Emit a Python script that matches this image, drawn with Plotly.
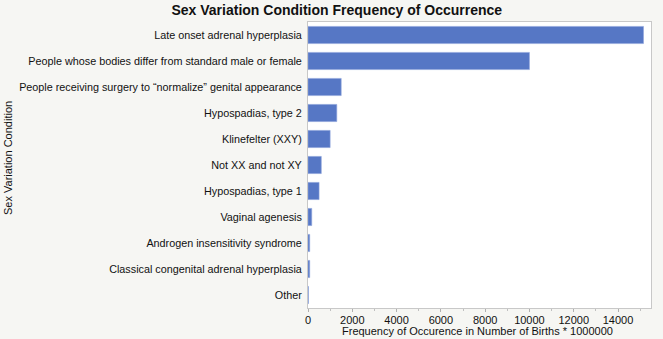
import plotly.graph_objects as go

categories = [
    "Late onset adrenal hyperplasia",
    "People whose bodies differ from standard male or female",
    "People receiving surgery to “normalize” genital appearance",
    "Hypospadias, type 2",
    "Klinefelter (XXY)",
    "Not XX and not XY",
    "Hypospadias, type 1",
    "Vaginal agenesis",
    "Androgen insensitivity syndrome",
    "Classical congenital adrenal hyperplasia",
    "Other",
]
values = [15151, 10000, 1500, 1300, 1000, 600, 500, 169, 77, 77, 20]

tick_vals = [0, 2000, 4000, 6000, 8000, 10000, 12000, 14000]
tick_text = ["0", "2000", "4000", "6000", "8000", "10000", "12000", "14000"]
minor_vals = [1000, 3000, 5000, 7000, 9000, 11000, 13000, 15000]

FONT = "Liberation Sans, Arial, sans-serif"
W, H = 663, 339
L, R, T, B = 308, 12, 22, 31
PW, PH = W - L - R, H - T - B

fig = go.Figure(go.Bar(
    x=values, y=categories, orientation="h",
    marker=dict(color="#5677c5", line=dict(color="#8fa4db", width=0.6)),
    width=0.66,
))

fig.update_layout(
    width=W, height=H,
    margin=dict(l=L, r=R, t=T, b=B),
    paper_bgcolor="#f6f6f3",
    plot_bgcolor="#ffffff",
    showlegend=False,
    title=dict(text="<b>Sex Variation Condition Frequency of Occurrence</b>",
               x=0.508, xanchor="center", y=0.97, yanchor="middle",
               font=dict(family=FONT, size=14, color="#111111")),
    font=dict(family=FONT, size=11, color="#111111"),
    xaxis=dict(range=[0, 15490], tickvals=tick_vals, ticktext=tick_text,
               showgrid=False, zeroline=False,
               showline=True, linecolor="#c8c8c8", mirror=True,
               ticks="outside", ticklen=3, tickcolor="#b0b0b0",
               ticklabelstandoff=-1,
               minor=dict(tickvals=minor_vals, ticks="outside", ticklen=2,
                          tickcolor="#c0c0c0"),
               tickfont=dict(size=11, family=FONT, color="#111111"),
               automargin=False),
    yaxis=dict(categoryorder="array", categoryarray=categories[::-1],
               range=[-0.5, 10.5], showgrid=False, zeroline=False,
               showline=True, linecolor="#c8c8c8", mirror=True, ticks="",
               ticklabelstandoff=3,
               tickfont=dict(size=10.8, family=FONT, color="#111111"),
               automargin=False),
    annotations=[
        dict(text="Sex Variation Condition", textangle=-90,
             x=(8 - L) / PW, xref="paper", y=(H - 158 - B) / PH, yref="paper",
             xanchor="center", yanchor="middle", showarrow=False,
             font=dict(size=11, family=FONT, color="#111111")),
        dict(text="Frequency of Occurence in Number of Births * 1000000",
             x=(477 - L) / PW, xref="paper", y=(H - 331 - B) / PH, yref="paper",
             xanchor="center", yanchor="middle", showarrow=False,
             font=dict(size=11, family=FONT, color="#111111")),
    ],
)

fig.write_html("out.html")
